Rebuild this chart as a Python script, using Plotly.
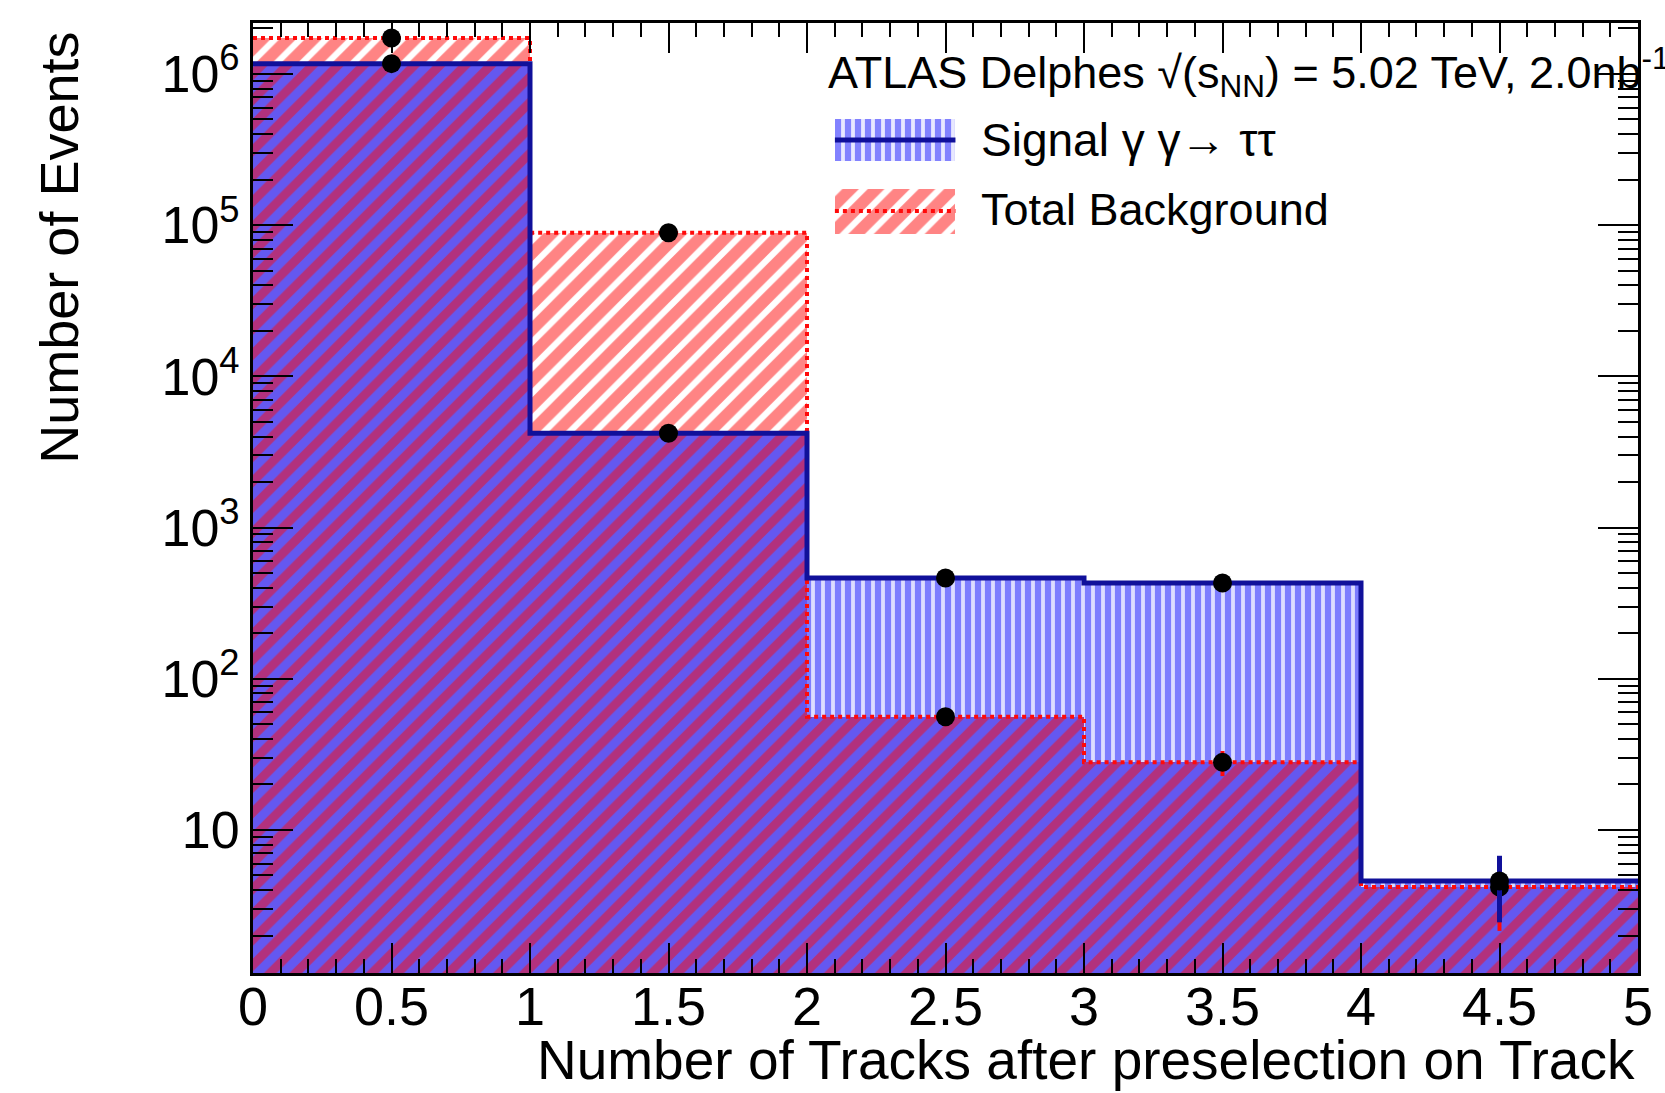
import numpy as np
import plotly.graph_objects as go

# Histogram content: number of tracks after preselection (5 unit-wide bins)
bin_edges = [0, 1, 2, 3, 4, 5]
bin_centers = [0.5, 1.5, 2.5, 3.5, 4.5]
signal = [1.17e6, 4.2e3, 464, 430, 4.6]
background = [1.73e6, 8.9e4, 56, 28, 4.2]
signal_err = [1080, 65, 21.5, 20.7, 2.15]
background_err = [1320, 300, 7.5, 5.3, 2.05]

x_tick_vals = [0, 0.5, 1, 1.5, 2, 2.5, 3, 3.5, 4, 4.5, 5]
x_tick_text = ["0", "0.5", "1", "1.5", "2", "2.5", "3", "3.5", "4", "4.5", "5"]
y_tick_vals = [10, 1e2, 1e3, 1e4, 1e5, 1e6]
y_tick_text = ["10", "10<sup>2</sup>", "10<sup>3</sup>", "10<sup>4</sup>",
               "10<sup>5</sup>", "10<sup>6</sup>"]

header_text = "ATLAS Delphes \u221a(s<sub>NN</sub>) = 5.02 TeV, 2.0nb<sup>-1</sup>"
signal_label = "Signal \u03b3 \u03b3\u2192 \u03c4\u03c4"
background_label = "Total Background"
x_title = "Number of Tracks after preselection on Track"
y_title = "Number of Events"

FONT = "Liberation Sans, Arial, Helvetica, sans-serif"
RED = "#ff0a0a"
BLUE = "#1c1cff"
DARK_BLUE = "#10109a"

W, H = 1665, 1093
ML, MR, MT, MB = 253, 22, 23, 120

sig = np.array(signal, dtype=float)
bkg = np.array(background, dtype=float)
low = np.minimum(sig, bkg)

# pattern styles
overlap_pat = dict(shape="/", fgcolor=RED, bgcolor="#6458f0", size=18, solidity=0.5)
sig_pat = dict(shape="|", fgcolor=BLUE, bgcolor="#dcdcff", size=10, solidity=0.62)
bkg_pat = dict(shape="/", fgcolor=RED, bgcolor="white", size=18, solidity=0.65)

fig = go.Figure()

# region where both histograms overlap
fig.add_trace(go.Bar(x=bin_centers, y=low, width=1,
                     marker=dict(color="#6458f0", pattern=overlap_pat, line=dict(width=0)),
                     showlegend=False, hoverinfo="skip"))

# signal above background
sig_mask = sig > bkg
fig.add_trace(go.Bar(x=np.array(bin_centers)[sig_mask], base=bkg[sig_mask],
                     y=(sig - bkg)[sig_mask], width=1,
                     marker=dict(color="#dcdcff", pattern=sig_pat, line=dict(width=0)),
                     showlegend=False, hoverinfo="skip"))

# background above signal
bkg_mask = bkg > sig
fig.add_trace(go.Bar(x=np.array(bin_centers)[bkg_mask], base=sig[bkg_mask],
                     y=(bkg - sig)[bkg_mask], width=1,
                     marker=dict(color="white", pattern=bkg_pat, line=dict(width=0)),
                     showlegend=False, hoverinfo="skip"))

# histogram outlines
fig.add_trace(go.Scatter(x=bin_edges, y=list(background) + [background[-1]],
                         mode="lines", line=dict(shape="hv", color=RED, width=4, dash="dot"),
                         showlegend=False, hoverinfo="skip"))
fig.add_trace(go.Scatter(x=bin_edges, y=list(signal) + [signal[-1]],
                         mode="lines", line=dict(shape="hv", color=DARK_BLUE, width=5),
                         showlegend=False, hoverinfo="skip"))

# bin-centre markers with statistical errors
fig.add_trace(go.Scatter(x=bin_centers, y=background, mode="markers",
                         marker=dict(color="black", size=19),
                         error_y=dict(type="data", array=background_err, color=RED,
                                      thickness=4, width=0),
                         showlegend=False, hoverinfo="skip"))
fig.add_trace(go.Scatter(x=bin_centers, y=signal, mode="markers",
                         marker=dict(color="black", size=19),
                         error_y=dict(type="data", array=signal_err, color=DARK_BLUE,
                                      thickness=5, width=0),
                         showlegend=False, hoverinfo="skip"))

# legend key boxes on a pixel-unit overlay axis pair
key_x0, key_x1 = 837, 958
fig.add_trace(go.Bar(x=[(key_x0 + key_x1) / 2], base=[119], y=[42], width=key_x1 - key_x0,
                     xaxis="x2", yaxis="y2",
                     marker=dict(color="white", pattern=dict(shape="|", fgcolor=BLUE, bgcolor="#e8e8ff",
                                                             size=10, solidity=0.62),
                                 line=dict(width=0)),
                     showlegend=False, hoverinfo="skip"))
fig.add_trace(go.Bar(x=[(key_x0 + key_x1) / 2], base=[189], y=[45], width=key_x1 - key_x0,
                     xaxis="x2", yaxis="y2",
                     marker=dict(color="white", pattern=bkg_pat, line=dict(width=0)),
                     showlegend=False, hoverinfo="skip"))
fig.add_trace(go.Scatter(x=[key_x0, key_x1], y=[140, 140], mode="lines", xaxis="x2", yaxis="y2",
                         line=dict(color=DARK_BLUE, width=5), showlegend=False, hoverinfo="skip"))
fig.add_trace(go.Scatter(x=[key_x0, key_x1], y=[211, 211], mode="lines", xaxis="x2", yaxis="y2",
                         line=dict(color=RED, width=4, dash="dot"), showlegend=False, hoverinfo="skip"))

y_minor = [m * 10 ** k for k in range(0, 7) for m in range(2, 10)]

fig.update_layout(
    width=W, height=H,
    margin=dict(l=ML, r=MR, t=MT, b=MB),
    paper_bgcolor="white", plot_bgcolor="white",
    barmode="overlay", bargap=0,
    font=dict(family=FONT, color="black", size=54),
    xaxis=dict(range=[0, 5], tickmode="array", tickvals=x_tick_vals, ticktext=x_tick_text,
               ticks="inside", ticklen=30, tickwidth=2, tickcolor="black",
               minor=dict(ticks="inside", ticklen=14, tickwidth=2, tickcolor="black", dtick=0.1, tick0=0),
               showline=True, linewidth=3, linecolor="black", mirror="ticks",
               ticklabelstandoff=-16,
               showgrid=False, zeroline=False, tickfont=dict(size=54, family=FONT)),
    yaxis=dict(type="log", range=[0.054, 6.337], tickmode="array", tickvals=y_tick_vals,
               ticktext=y_tick_text, ticks="inside", ticklen=40, tickwidth=2, tickcolor="black",
               minor=dict(ticks="inside", ticklen=20, tickwidth=2, tickcolor="black",
                          tickmode="array", tickvals=y_minor),
               showline=True, linewidth=3, linecolor="black", mirror="ticks",
               showgrid=False, zeroline=False, tickfont=dict(size=52, family=FONT)),
    xaxis2=dict(overlaying="x", range=[ML, W - MR], visible=False, fixedrange=True),
    yaxis2=dict(overlaying="y", range=[H - MB, MT], visible=False, fixedrange=True),
)

plot_w = W - ML - MR
plot_h = H - MT - MB


def px_x(px):
    return (px - ML) / plot_w


def px_y(py):
    return 1 - (py - MT) / plot_h


fig.add_annotation(text=x_title, xref="paper", yref="paper", x=px_x(1642), y=px_y(1060),
                   xanchor="right", yanchor="middle", showarrow=False,
                   font=dict(size=55, family=FONT))
fig.add_annotation(text=y_title, xref="paper", yref="paper", x=px_x(58), y=px_y(30),
                   xanchor="center", yanchor="top", textangle=-90, showarrow=False,
                   font=dict(size=54, family=FONT))
fig.add_annotation(text=header_text, xref="paper", yref="paper", x=px_x(828), y=px_y(72),
                   xanchor="left", yanchor="middle", showarrow=False,
                   font=dict(size=45, family=FONT))
fig.add_annotation(text=signal_label, xref="paper", yref="paper", x=px_x(982), y=px_y(140),
                   xanchor="left", yanchor="middle", showarrow=False,
                   font=dict(size=46, family=FONT))
fig.add_annotation(text=background_label, xref="paper", yref="paper", x=px_x(982), y=px_y(209),
                   xanchor="left", yanchor="middle", showarrow=False,
                   font=dict(size=45, family=FONT))

fig.write_html("out.html")
